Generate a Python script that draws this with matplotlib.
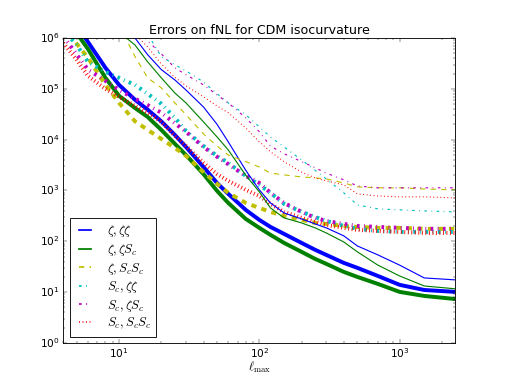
import numpy as np
import matplotlib
matplotlib.use("Agg")
import matplotlib.pyplot as plt
from matplotlib.lines import Line2D

plt.style.use('classic')
plt.rcParams['lines.scale_dashes'] = False
plt.rcParams['figure.facecolor'] = 'white'
plt.rcParams['savefig.facecolor'] = 'white'

# multipole grid for the thick curves
ell_thick = [4, 5, 6, 8, 10, 13, 16, 20, 25, 30, 40, 50, 60, 80, 100, 120, 150,
             200, 250, 300, 400, 500, 700, 1000, 1500, 2500]
# thick curves
zz_zz_thick = [4.9e6, 1.8e6, 8.4e5, 2.6e5, 1.2e5, 6.1e4, 3.9e4, 2.3e4, 1.24e4, 7.2e3,
               2.9e3, 1.4e3, 860, 415, 264, 192, 140, 93, 68, 54, 37.6, 30, 20.8,
               13.9, 11.0, 10.1]
z_zS_thick = [2.9e6, 1.24e6, 6.1e5, 1.65e5, 7.3e4, 4.2e4, 2.8e4, 1.56e4, 8.3e3, 5.0e3,
              2.1e3, 980, 570, 276, 184, 134, 93, 62, 45, 36, 25, 19.9, 14.5, 10.1,
              8.4, 7.3]
z_SS_thick = [1.74e6, 7.7e5, 4.1e5, 1.2e5, 5.3e4, 2.3e4, 1.56e4, 1.04e4, 6.9e3, 4.8e3,
              2.3e3, 1.35e3, 900, 570, 454, 379, 316, 264, 230, 220, 201, 192, 184,
              184, 176, 176]
S_zz_thick = [1.45e6, 7.3e5, 3.4e5, 2.16e5, 1.65e5, 1.2e5, 8.0e4, 5.1e4, 2.7e4, 1.49e4,
              7.5e3, 4.8e3, 3.5e3, 1.94e3, 1.29e3, 900, 545, 379, 302, 252, 201, 176,
              160, 153, 153, 153]
S_zS_thick = [1.1e6, 4.7e5, 2.4e5, 1.44e5, 9.5e4, 6.4e4, 4.8e4, 3.4e4, 2.1e4, 1.43e4,
              7.2e3, 4.6e3, 3.3e3, 1.94e3, 1.41e3, 900, 570, 379, 289, 252, 220, 201,
              192, 184, 176, 176]
S_SS_thick = [8.0e5, 3.7e5, 1.8e5, 1.0e5, 7.0e4, 4.6e4, 3.4e4, 2.24e4, 1.19e4, 7.5e3,
              3.5e3, 2.1e3, 1.55e3, 1.03e3, 780, 545, 379, 289, 241, 210, 184, 168,
              160, 153, 146, 146]

# multipole grid for the thin curves
ell_thin = [10, 13, 16, 20, 25, 30, 40, 50, 60, 80, 100, 120, 150, 200, 250, 300,
            400, 500, 700, 1000, 1500, 2500]
zz_zz_thin = [2.6e6, 1.0e6, 4.7e5, 2.4e5, 1.5e5, 9.5e4, 4.4e4, 2.0e4, 9.1e3, 2.5e3,
              1.03e3, 570, 362, 276, 220, 184, 128, 81, 54, 34, 19, 17.4]
z_zS_thin = [1.32e6, 7.3e5, 3.4e5, 1.65e5, 8.3e4, 5.3e4, 2.24e4, 1.13e4, 6.3e3, 2.0e3,
             940, 454, 289, 230, 184, 146, 97, 62, 34, 20.8, 13.2, 11.6]
z_SS_thin = [1.8e6, 4.3e5, 1.65e5, 1.05e5, 5.3e4, 3.1e4, 1.3e4, 7.5e3, 5.0e3, 3.7e3,
             2.9e3, 2.2e3, 2.03e3, 1.85e3, 1.77e3, 1.69e3, 1.41e3, 1.18e3, 1.13e3,
             1.13e3, 1.07e3, 1.03e3]
S_zz_thin = [1.0e7, 3.1e6, 1.2e6, 4.3e5, 3.0e5, 2.26e5, 1.37e5, 8.0e4, 5.3e4, 3.1e4,
             1.79e4, 1.13e4, 7.2e3, 4.0e3, 2.5e3, 1.69e3, 900, 520, 435, 415, 397, 379]
S_zS_thin = [3.6e6, 1.6e6, 8.8e5, 4.9e5, 2.6e5, 1.9e5, 1.2e5, 7.6e4, 5.3e4, 2.7e4,
             1.43e4, 7.5e3, 5.3e3, 3.7e3, 2.8e3, 2.2e3, 1.62e3, 1.23e3, 1.13e3,
             1.13e3, 1.13e3, 1.13e3]
S_SS_thin = [2.9e6, 1.2e6, 6.7e5, 3.1e5, 1.7e5, 1.15e5, 7.0e4, 4.6e4, 3.4e4, 1.7e4,
             9.1e3, 5.8e3, 3.7e3, 2.3e3, 1.77e3, 1.55e3, 1.29e3, 860, 780, 750, 750, 715]

labels = [r'$\zeta,\zeta\zeta$', r'$\zeta,\zeta S_c$', r'$\zeta,S_c S_c$',
          r'$S_c,\zeta\zeta$', r'$S_c,\zeta S_c$', r'$S_c,S_c S_c$']
colors = ['b', 'g', 'y', 'c', 'm', 'r']
styles = ['-', '-', '--', '-.', '-.', ':']

thick = [zz_zz_thick, z_zS_thick, z_SS_thick, S_zz_thick, S_zS_thick, S_SS_thick]
thin = [zz_zz_thin, z_zS_thin, z_SS_thin, S_zz_thin, S_zS_thin, S_SS_thin]

fig = plt.figure(figsize=(506 / 63.25, 381 / 63.25), dpi=63.25)
ax = fig.add_subplot(111)

for ys, c, ls in zip(thick, colors, styles):
    ax.plot(ell_thick, ys, color=c, linestyle=ls, linewidth=4.5)
for ys, c, ls in zip(thin, colors, styles):
    ax.plot(ell_thin, ys, color=c, linestyle=ls, linewidth=1.3)

ax.set_xscale('log')
ax.set_yscale('log')
ax.set_xlim(4, 2500)
ax.set_ylim(1, 1e6)
ax.set_title('Errors on fNL for CDM isocurvature')
ax.set_xlabel(r'$\ell_{\rm max}$', labelpad=0, fontsize=14)

handles = [Line2D([], [], color=c, linestyle=ls, linewidth=2) for c, ls in zip(colors, styles)]
ax.legend(handles, labels, loc='lower left', fontsize=14.5, handlelength=1.6,
          labelspacing=0.2, handletextpad=0.9, borderpad=0.4)

fig.savefig('out.png', dpi=63.25)
